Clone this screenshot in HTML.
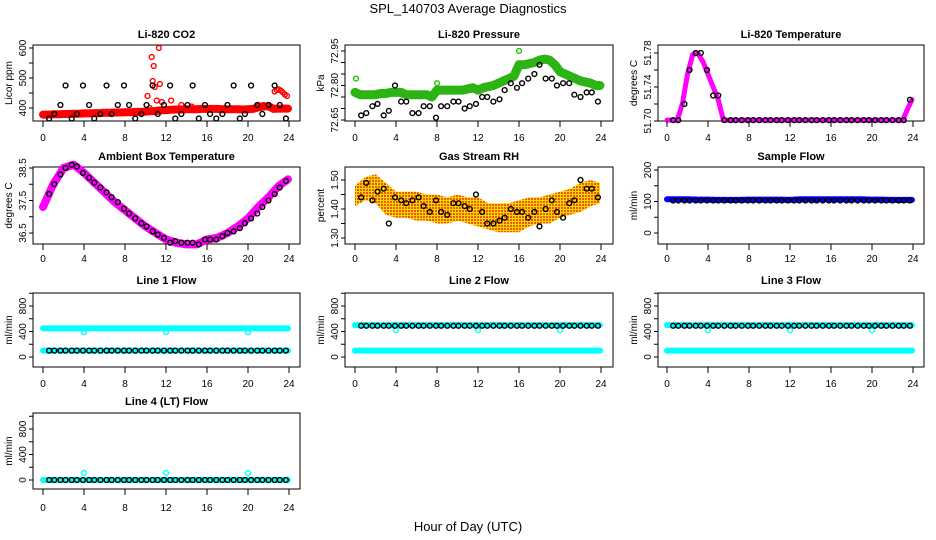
<!DOCTYPE html>
<html><head><meta charset="utf-8"><style>
body{margin:0;background:#fff}
svg{display:block;font-family:"Liberation Sans",sans-serif}
</style></head><body>
<svg id="fig" width="936" height="540" viewBox="0 0 936 540">
<defs>
<pattern id="rhpat" width="3" height="3" patternUnits="userSpaceOnUse"><rect width="3" height="3" fill="#ffd800"/><rect width="2" height="2" fill="#ee5a00"/></pattern>
</defs>
<text x="468" y="13" font-size="13" text-anchor="middle">SPL_140703  Average Diagnostics</text>
<text x="468" y="531" font-size="13" text-anchor="middle">Hour of Day (UTC)</text>
</svg>
<script>
// shared sample times
const blackT=[0.6,1.1,1.7,2.2,2.8,3.3,3.9,4.5,5.0,5.6,6.2,6.7,7.3,7.9,8.4,9.0,9.6,10.1,10.7,11.2,11.8,12.4,12.9,13.5,14.1,14.6,15.2,15.8,16.3,16.9,17.5,18.0,18.6,19.2,19.7,20.3,20.9,21.4,22.0,22.6,23.1,23.7];
const halfT=[0,0.5,1,1.5,2,2.5,3,3.5,4,4.5,5,5.5,6,6.5,7,7.5,8,8.5,9,9.5,10,10.5,11,11.5,12,12.5,13,13.5,14,14.5,15,15.5,16,16.5,17,17.5,18,18.5,19,19.5,20,20.5,21,21.5,22,22.5,23,23.5,23.9];
const hourT=[0,1,2,3,4,5,6,7,8,9,10,11,12,13,14,15,16,17,18,19,20,21,22,23,23.9];
const xTicks=[0,4,8,12,16,20,24];
// CO2
const co2Red=[378,378,379,379,380,380,381,381,382,382,383,383,384,384,385,385,386,386,387,387,388,389,390,392,393,394,395,395,396,396,396,397,397,397,397,396,396,396,396,395,396,397,402,405,406,397,398,398,398];
const co2OutT=[10.2,10.4,10.6,10.8,10.7,10.9,11.1,11.3,11.4,11.6,12.5,22.6,22.8,23.0,23.2,23.4,23.6,23.8,21.0,21.5,22.0,13.5,14.5];
const co2OutV=[440,400,570,540,490,470,425,600,480,420,425,455,460,462,458,452,445,440,410,410,410,410,405];
const co2Black=[365,380,410,475,365,380,475,410,365,380,475,380,410,475,410,365,380,410,475,380,410,475,365,380,410,475,365,410,380,365,380,410,475,365,380,475,410,380,410,475,410,365];
// Pressure
const presGreen=[72.77,72.76,72.76,72.76,72.76,72.765,72.765,72.77,72.77,72.77,72.76,72.76,72.76,72.76,72.76,72.75,72.78,72.78,72.78,72.78,72.78,72.78,72.785,72.79,72.78,72.79,72.795,72.80,72.81,72.82,72.83,72.84,72.89,72.89,72.895,72.90,72.91,72.915,72.91,72.89,72.86,72.85,72.84,72.83,72.82,72.815,72.81,72.80,72.80];
const presBlack=[72.67,72.68,72.71,72.72,72.67,72.69,72.80,72.73,72.73,72.68,72.68,72.71,72.71,72.66,72.71,72.71,72.73,72.73,72.70,72.71,72.72,72.75,72.75,72.73,72.74,72.78,72.81,72.79,72.81,72.83,72.85,72.89,72.83,72.83,72.80,72.81,72.81,72.76,72.75,72.77,72.77,72.73];
// Li-820 temperature
const tempMag=[51.701,51.701,51.701,51.72,51.755,51.778,51.78,51.77,51.755,51.74,51.725,51.701,51.701,51.701,51.701,51.701,51.701,51.701,51.701,51.701,51.701,51.701,51.701,51.701,51.701,51.701,51.701,51.701,51.701,51.701,51.701,51.701,51.701,51.701,51.701,51.701,51.701,51.701,51.701,51.701,51.701,51.701,51.701,51.701,51.701,51.701,51.701,51.715,51.725];
const tempBlack=[51.701,51.701,51.72,51.76,51.78,51.78,51.76,51.73,51.73,51.701,51.701,51.701,51.701,51.701,51.701,51.701,51.701,51.701,51.701,51.701,51.701,51.701,51.701,51.701,51.701,51.701,51.701,51.701,51.701,51.701,51.701,51.701,51.701,51.701,51.701,51.701,51.701,51.701,51.701,51.701,51.701,51.725];
// Ambient
const ambMag=[37.3,38.0,38.5,38.6,38.35,38.05,37.75,37.45,37.2,36.95,36.7,36.5,36.3,36.2,36.15,36.15,36.3,36.35,36.5,36.7,36.95,37.3,37.6,37.95,38.15];
const ambBlack=[37.7,38.0,38.3,38.5,38.6,38.55,38.35,38.2,38.05,37.9,37.75,37.6,37.45,37.25,37.1,36.95,36.8,36.7,36.55,36.45,36.35,36.2,36.25,36.2,36.2,36.2,36.15,36.3,36.3,36.3,36.4,36.5,36.55,36.65,36.8,36.95,37.1,37.3,37.5,37.7,37.9,38.1];
// RH
const rhLow=[1.41,1.43,1.42,1.38,1.37,1.37,1.36,1.36,1.35,1.35,1.36,1.35,1.34,1.33,1.32,1.32,1.32,1.34,1.35,1.35,1.37,1.38,1.39,1.41,1.42];
const rhHigh=[1.48,1.51,1.52,1.49,1.46,1.46,1.46,1.45,1.45,1.44,1.45,1.44,1.44,1.42,1.42,1.42,1.43,1.44,1.44,1.45,1.46,1.47,1.49,1.50,1.49];
const rhBlack=[1.44,1.49,1.43,1.46,1.47,1.35,1.44,1.43,1.42,1.43,1.44,1.41,1.39,1.43,1.39,1.38,1.42,1.42,1.41,1.40,1.45,1.39,1.35,1.35,1.36,1.37,1.40,1.39,1.39,1.37,1.39,1.34,1.40,1.43,1.39,1.37,1.42,1.43,1.50,1.47,1.47,1.44];
// Sample flow
const sampBlue=[107,107,107,106,106,105,105,105,106,106,106,106,105,107,107,107,107,107,107,107,106,106,105,105,105];
const sampBlack=blackT.map(()=>103);
// Line flows
const l1CyanHi=hourT.map(()=>450), l1CyanLo=hourT.map(()=>100), l1Black=blackT.map(()=>100);
const l2CyanHi=hourT.map(()=>500), l2CyanLo=hourT.map(()=>100), l2Black=blackT.map(()=>490);
const l3CyanHi=hourT.map(()=>500), l3CyanLo=hourT.map(()=>100), l3Black=blackT.map(()=>490);
const l4Cyan=hourT.map(()=>0), l4Black=blackT.map(()=>0);
const outT=[4,12,20];
const l1Out=[390,390,390], l2Out=[420,420,420], l3Out=[420,420,420], l4Out=[110,110,110];

const NS='http://www.w3.org/2000/svg', svg=document.getElementById('fig');
function el(tag,attrs,parent){const e=document.createElementNS(NS,tag);for(const k in attrs)e.setAttribute(k,attrs[k]);(parent||svg).appendChild(e);return e;}
const cols=[{bx0:33,bx1:300,p0:43,p24:289},{bx0:345,bx1:613,p0:355,p24:601},{bx0:658,bx1:924,p0:667,p24:913}];
const rows=[{by0:45,by1:121,title:38,tl:141},{by0:167,by1:244,title:160,tl:262},{by0:293,by1:367,title:284,tl:387},{by0:413,by1:489,title:405,tl:511}];

function panel(name,title,ci,ri,yl,v1,p1,v2,p2,yticks,ylabels,draw){
  const c=cols[ci],r=rows[ri];
  const g=el('g',{});
  
  
  const X=t=>c.p0+(c.p24-c.p0)*t/24;
  const Y=v=>p1+(p2-p1)*(v-v1)/(v2-v1);
  const t=el('text',{x:(c.bx0+c.bx1)/2,y:r.title,'font-size':11,'font-weight':'bold','text-anchor':'middle'},g);
  t.textContent=title;
  
  
  const box=el('rect',{x:c.bx0,y:r.by0,width:c.bx1-c.bx0,height:r.by1-r.by0,fill:'none',stroke:'#000','stroke-width':1},g);
  
  
  const clip=el('g',{},g);
  draw(clip,X,Y);
  const xa=el('g',{},g);
  
  
  xTicks.forEach(v=>{el('line',{x1:X(v),x2:X(v),y1:r.by1,y2:r.by1+6,stroke:'#000'},xa);
    const tx=el('text',{x:X(v),y:r.tl,'font-size':10,'text-anchor':'middle'},xa);tx.textContent=v;});
  const ya=el('g',{},g);
  
  
  yticks.forEach(v=>el('line',{x1:c.bx0-4,x2:c.bx0,y1:Y(v),y2:Y(v),stroke:'#000'},ya));
  ylabels.forEach(v=>{const tx=el('text',{x:0,y:0,'font-size':10,'text-anchor':'middle',transform:`translate(${c.bx0-7},${Y(v[0])}) rotate(-90)`},ya);tx.textContent=v[1];});
  const yt=el('text',{x:0,y:0,'font-size':10,'text-anchor':'middle',transform:`translate(${c.bx0-21},${(r.by0+r.by1)/2}) rotate(-90)`},g);
  yt.textContent=yl;
  
  
}
function band(g,X,Y,ts,vs,color,w,nm){
  const p=el('polyline',{points:ts.map((t,i)=>X(t)+','+Y(vs[i])).join(' '),fill:'none',stroke:color,'stroke-width':w,'stroke-linecap':'round','stroke-linejoin':'round'},g);
  
  
}
function pts(g,X,Y,ts,vs,color,nm,r){
  ts.forEach((t,i)=>{const c=el('circle',{cx:X(t),cy:Y(vs[i]),r:r||2.4,fill:'none',stroke:color,'stroke-width':1.4},g);
    
    });
}
const rng=(a,b,s)=>{const o=[];for(let v=a;v<=b+1e-9;v+=s)o.push(+v.toFixed(4));return o;};

panel('co2-panel','Li-820 CO2',0,0,'Licor ppm',600,48,400,108,rng(400,600,50),[[400,'400'],[500,'500'],[600,'600']],(g,X,Y)=>{
  band(g,X,Y,halfT,co2Red,'#ff0000',8,'co2-red-series');
  pts(g,X,Y,co2OutT,co2OutV,'#ff0000','co2-red-point');
  pts(g,X,Y,blackT,co2Black,'#000','co2-black-point');
});
panel('pressure-panel','Li-820 Pressure',1,0,'kPa',72.95,51,72.65,120,rng(72.65,72.95,0.05),[[72.65,'72.65'],[72.80,'72.80'],[72.95,'72.95']],(g,X,Y)=>{
  band(g,X,Y,halfT,presGreen,'#2cb314',9,'pressure-green-series');
  pts(g,X,Y,[0.1,8.0,16.0],[72.83,72.81,72.95],'#22c40c','pressure-green-point');
  pts(g,X,Y,blackT,presBlack,'#000','pressure-black-point');
});
panel('temperature-panel','Li-820 Temperature',2,0,'degrees C',51.78,53,51.70,121,rng(51.70,51.78,0.02),[[51.70,'51.70'],[51.74,'51.74'],[51.78,'51.78']],(g,X,Y)=>{
  band(g,X,Y,halfT,tempMag,'#ff00ff',5,'temperature-magenta-series');
  pts(g,X,Y,blackT,tempBlack,'#000','temperature-black-point');
});
panel('ambient-panel','Ambient Box Temperature',0,1,'degrees C',38.5,168,36.5,233,rng(36.5,38.5,0.5),[[36.5,'36.5'],[37.5,'37.5'],[38.5,'38.5']],(g,X,Y)=>{
  band(g,X,Y,hourT,ambMag,'#ff00ff',8,'ambient-magenta-series');
  pts(g,X,Y,blackT,ambBlack,'#000','ambient-black-point');
});
panel('rh-panel','Gas Stream RH',1,1,'percent',1.50,180,1.30,238,rng(1.30,1.50,0.05),[[1.30,'1.30'],[1.40,'1.40'],[1.50,'1.50']],(g,X,Y)=>{
  const poly=hourT.map((t,i)=>X(t)+','+Y(rhHigh[i])).concat(hourT.slice().reverse().map((t,i)=>X(t)+','+Y(rhLow[hourT.length-1-i])));
  const p=el('polygon',{points:poly.join(' '),fill:'url(#rhpat)'},g);
  
  
  pts(g,X,Y,blackT,rhBlack,'#000','rh-black-point');
});
panel('sample-flow-panel','Sample Flow',2,1,'ml/min',200,170,0,233,rng(0,200,50),[[0,'0'],[100,'100'],[200,'200']],(g,X,Y)=>{
  band(g,X,Y,hourT,sampBlue,'#0000ff',6,'sample-flow-blue-series');
  pts(g,X,Y,blackT,sampBlack,'#000','sample-flow-black-point');
});
const flowTicks=rng(-200,1000,200).filter(v=>v>=0), flowLab=[[0,'0'],[400,'400'],[800,'800']];
panel('line1-flow-panel','Line 1 Flow',0,2,'ml/min',800,306,0,357,flowTicks,flowLab,(g,X,Y)=>{
  band(g,X,Y,hourT,l1CyanHi,'#00ffff',6,'line1-cyan-high');
  band(g,X,Y,hourT,l1CyanLo,'#00ffff',6,'line1-cyan-low');
  pts(g,X,Y,outT,l1Out,'#00ffff','line1-cyan-point');
  pts(g,X,Y,blackT,l1Black,'#000','line1-black-point');
});
panel('line2-flow-panel','Line 2 Flow',1,2,'ml/min',800,306,0,357,flowTicks,flowLab,(g,X,Y)=>{
  band(g,X,Y,hourT,l2CyanHi,'#00ffff',6,'line2-cyan-high');
  band(g,X,Y,hourT,l2CyanLo,'#00ffff',6,'line2-cyan-low');
  pts(g,X,Y,outT,l2Out,'#00ffff','line2-cyan-point');
  pts(g,X,Y,blackT,l2Black,'#000','line2-black-point');
});
panel('line3-flow-panel','Line 3 Flow',2,2,'ml/min',800,306,0,357,flowTicks,flowLab,(g,X,Y)=>{
  band(g,X,Y,hourT,l3CyanHi,'#00ffff',6,'line3-cyan-high');
  band(g,X,Y,hourT,l3CyanLo,'#00ffff',6,'line3-cyan-low');
  pts(g,X,Y,outT,l3Out,'#00ffff','line3-cyan-point');
  pts(g,X,Y,blackT,l3Black,'#000','line3-black-point');
});
panel('line4-flow-panel','Line 4 (LT) Flow',0,3,'ml/min',800,429,0,480,flowTicks,flowLab,(g,X,Y)=>{
  band(g,X,Y,hourT,l4Cyan,'#00ffff',6,'line4-cyan-series');
  pts(g,X,Y,outT,l4Out,'#00ffff','line4-cyan-point');
  pts(g,X,Y,blackT,l4Black,'#000','line4-black-point');
});
</script>
</body></html>
